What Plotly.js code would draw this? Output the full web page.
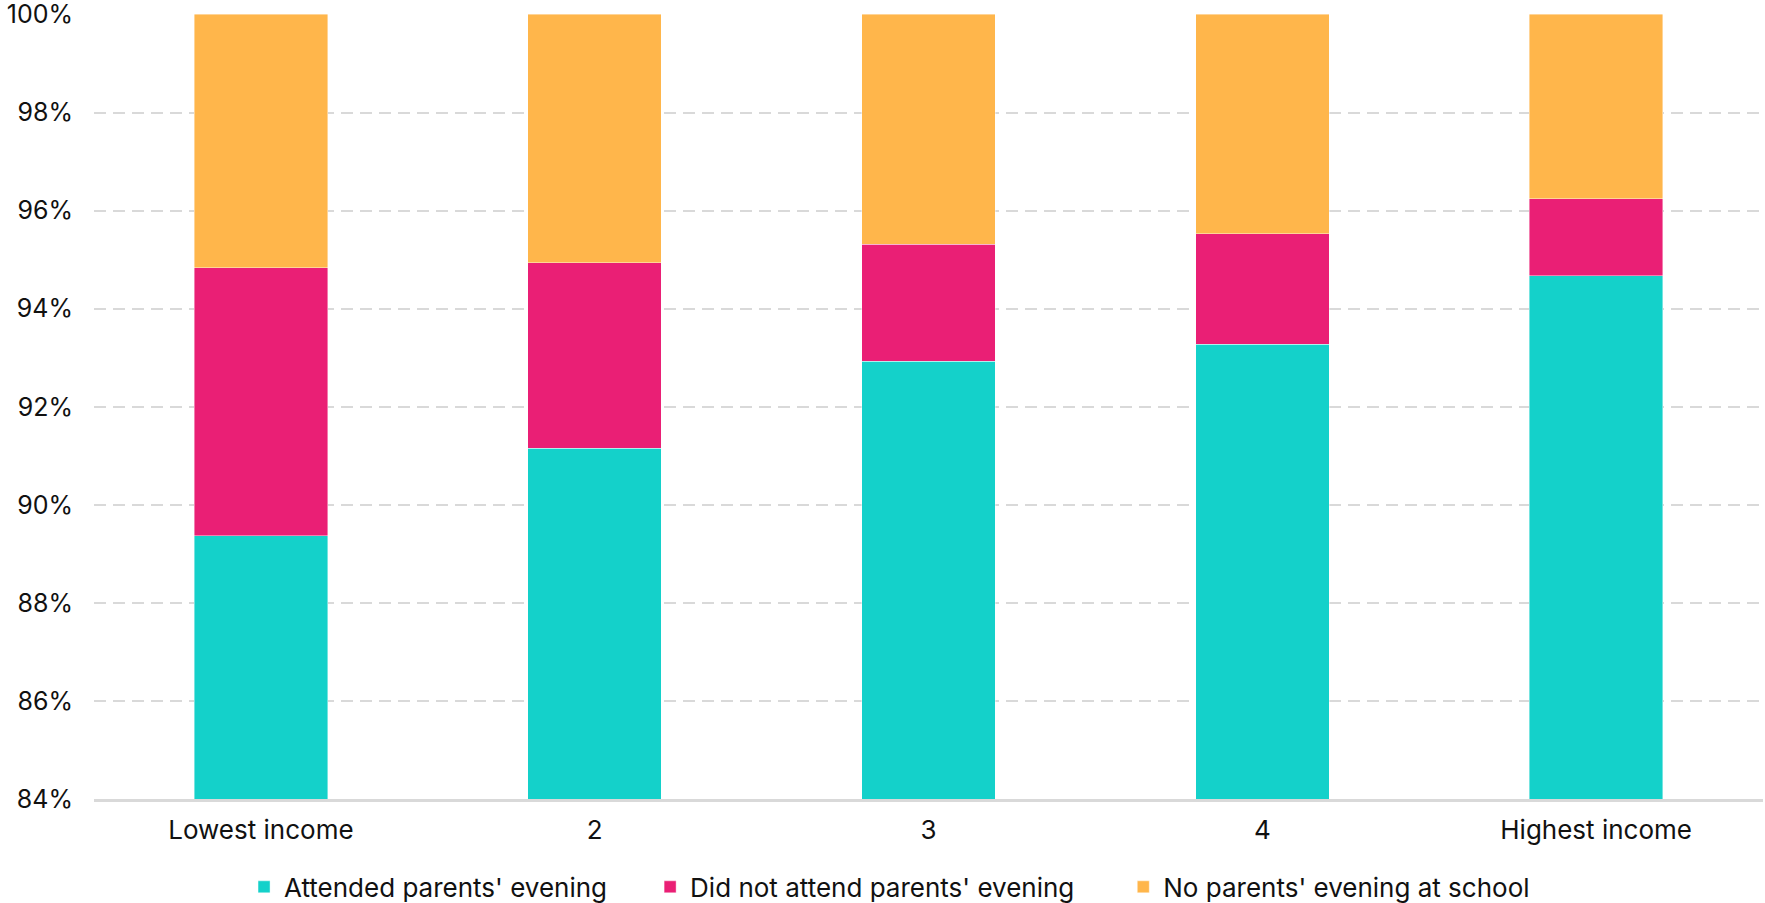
<!DOCTYPE html>
<html>
<head>
<meta charset="utf-8">
<script src="https://cdn.plot.ly/plotly-3.0.1.min.js"></script>
<style>html,body{margin:0;padding:0;background:#fff;}#chart{width:1765px;height:903px;}</style>
</head>
<body>
<div id="chart"></div>
<script>
var categories = ["Lowest income", "2", "3", "4", "Highest income"];
var attended = [89.37, 91.15, 92.93, 93.27, 94.67];
var didNotAttend = [5.46, 3.79, 2.38, 2.26, 1.57];
var noEvening = [5.17, 5.06, 4.69, 4.47, 3.76];
var seriesNames = ["Attended parents' evening", "Did not attend parents' evening", "No parents' evening at school"];
var seriesColors = ["#14D1CA", "#EA1F75", "#FFB64B"];
var yTickVals = [84, 86, 88, 90, 92, 94, 96, 98, 100];
var yTickText = ["84%", "86%", "88%", "90%", "92%", "94%", "96%", "98%", "100%"];

var legendIds = ["legend", "legend2", "legend3"];
var legendX = [0.0899, 0.3332, 0.6167];

var seriesValues = [attended, didNotAttend, noEvening];
var traces = seriesValues.map(function (vals, i) {
  return {
    type: "bar",
    x: categories,
    y: vals,
    name: seriesNames[i],
    legend: legendIds[i],
    marker: { color: seriesColors[i], line: { color: "rgba(255,255,255,0.6)", width: 0.7 } },
    width: 0.4,
    hoverinfo: "x+y+name"
  };
});

var layout = {
  width: 1765,
  height: 903,
  barmode: "stack",
  paper_bgcolor: "#fff",
  plot_bgcolor: "#fff",
  font: { family: "Inter, 'Noto Sans', sans-serif", size: 25, color: "#111" },
  margin: { l: 94, r: 2, t: 14, b: 104, autoexpand: false },
  showlegend: true,
  xaxis: {
    type: "category",
    showgrid: false,
    showline: true,
    linecolor: "#d9d9d9",
    linewidth: 3,
    ticks: "",
    ticklabelstandoff: 6,
    tickfont: { size: 26, color: "#111" },
    fixedrange: true
  },
  yaxis: {
    range: [84, 100.01],
    tickvals: yTickVals,
    ticktext: yTickText,
    showgrid: true,
    gridcolor: "#d9d9d9",
    gridwidth: 2,
    griddash: "12px,7px",
    zeroline: false,
    showline: false,
    ticks: "",
    ticklabelstandoff: 20,
    ticklabeloverflow: "allow",
    tickfont: { size: 25, color: "#111" },
    fixedrange: true
  }
};
legendIds.forEach(function (id, i) {
  layout[id] = {
    orientation: "h",
    x: legendX[i],
    xanchor: "left",
    y: -0.112,
    yanchor: "middle",
    bgcolor: "rgba(0,0,0,0)",
    font: { size: 26, color: "#111" }
  };
});

Plotly.newPlot("chart", traces, layout, { displayModeBar: false, staticPlot: true });
</script>
</body>
</html>
